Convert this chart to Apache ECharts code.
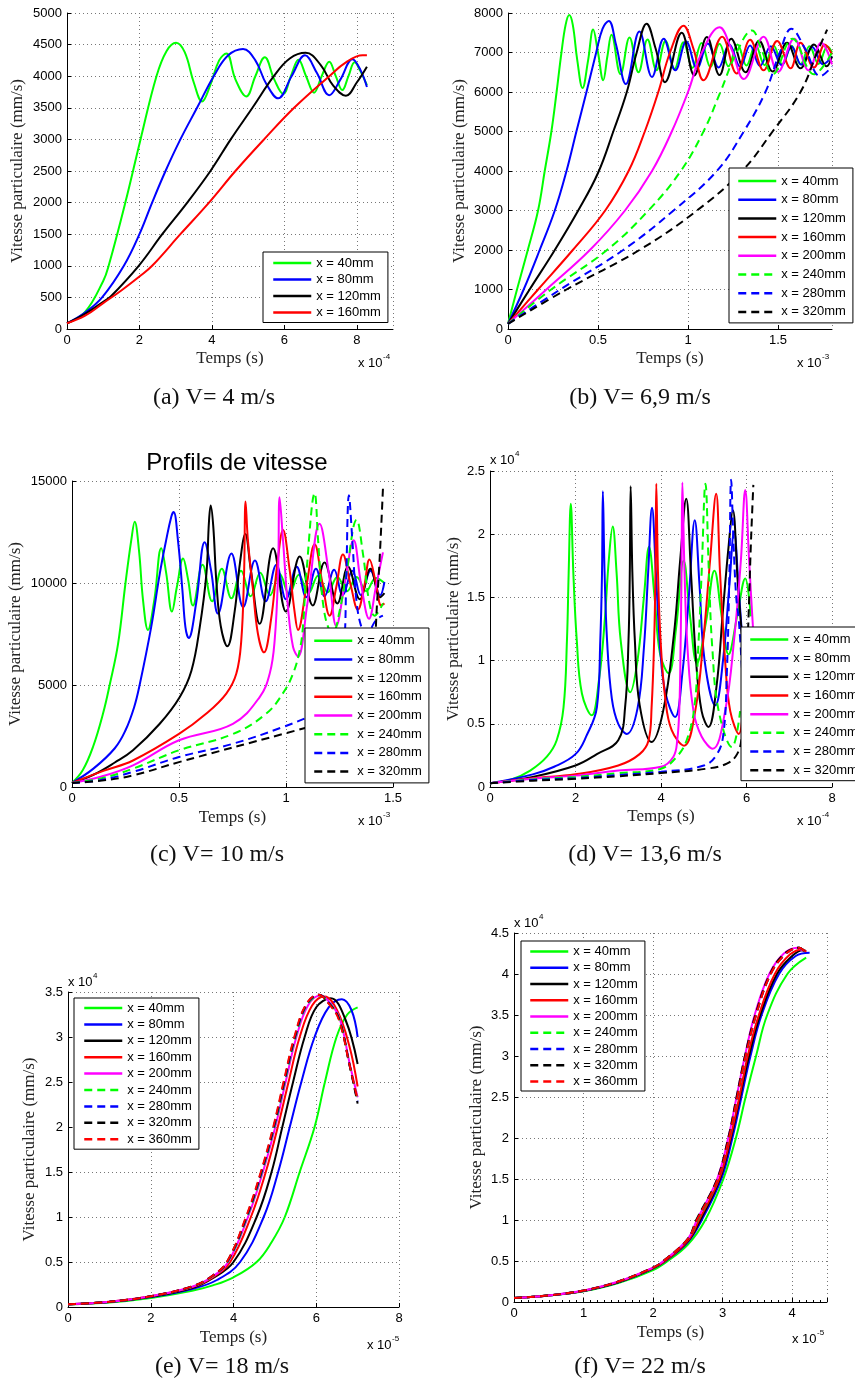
<!DOCTYPE html>
<html><head><meta charset="utf-8">
<script src="https://cdn.jsdelivr.net/npm/echarts@6/dist/echarts.min.js"></script>
<style>html,body{margin:0;padding:0;background:#fff}#c{width:855px;height:1391px}</style>
</head><body><div id="c"></div><script>
// ---------------- DATA ----------------
const NAMES4 = ['x = 40mm','x = 80mm','x = 120mm','x = 160mm'];
const NAMES8 = ['x = 40mm','x = 80mm','x = 120mm','x = 160mm','x = 200mm','x = 240mm','x = 280mm','x = 320mm'];
const NAMES9 = NAMES8.concat(['x = 360mm']);
const CAPTIONS = ['(a) V= 4 m/s','(b) V= 6,9 m/s','(c) V= 10 m/s','(d) V= 13,6 m/s','(e) V= 18 m/s','(f) V= 22 m/s'];
const TITLE_C = 'Profils de vitesse';
const X_NAME = 'Temps (s)';
const Y_NAME = 'Vitesse particulaire (mm/s)';
// axis ranges [min, max, interval]; x values in units of 10^exp
const A_X = [0, 9, 2],   A_Y = [0, 5000, 500];
const B_X = [0, 1.8, 0.5], B_Y = [0, 8000, 1000];
const C_X = [0, 1.5, 0.5], C_Y = [0, 15000, 5000];
const D_X = [0, 8, 2],   D_Y = [0, 2.5, 0.5];
const E_X = [0, 8, 2],   E_Y = [0, 3.5, 0.5];
const F_X = [0, 4.5, 1], F_Y = [0, 4.5, 0.5];
const X_EXP = ['-4','-3','-3','-4','-5','-5'];
const Y_EXP = [null, null, null, '4', '4', '4'];

// (a) V = 4 m/s   x: 1e-4 s, y: mm/s
const a_40 = [[0,90],[0.5,270],[1.0,760],[1.15,1000],[1.61,2000],[2.03,3000],[2.47,4000],[2.75,4400],[3.01,4530],[3.25,4380],[3.5,3900],[3.73,3600],[3.95,3850],[4.2,4250],[4.4,4360],[4.65,3950],[4.95,3680],[5.2,4000],[5.46,4300],[5.72,3950],[5.97,3720],[6.18,4000],[6.39,4260],[6.6,4000],[6.82,3740],[7.03,4000],[7.24,4230],[7.42,4000],[7.6,3780],[7.77,4000],[7.94,4220],[8.1,4080],[8.28,3860]];
const a_80 = [[0,90],[0.5,260],[0.97,500],[1.57,1000],[2.0,1500],[2.35,2000],[2.72,2500],[3.13,3000],[3.59,3500],[4.05,4000],[4.45,4330],[4.86,4430],[5.2,4250],[5.5,3880],[5.83,3650],[6.2,4000],[6.57,4330],[6.9,4050],[7.24,3700],[7.55,3950],[7.88,4270],[8.1,4100],[8.28,3830]];
const a_120 = [[0,90],[0.5,240],[1.0,430],[1.2,510],[1.98,1000],[2.63,1500],[3.32,2000],[3.96,2500],[4.52,3000],[5.12,3500],[5.71,4000],[6.15,4280],[6.59,4370],[7.0,4180],[7.35,3850],[7.7,3690],[8.0,3900],[8.28,4150]];
const a_160 = [[0,90],[0.5,210],[1.0,410],[1.5,610],[2.0,830],[2.35,1000],[3.13,1500],[3.92,2000],[4.65,2500],[5.44,3000],[6.27,3500],[7.24,4000],[7.7,4220],[8.16,4330],[8.28,4330]];

// (b) V = 6,9 m/s   x: 1e-3 s, y: mm/s
const b_40 = [[0,130],[0.05,1000],[0.11,2000],[0.167,3000],[0.204,4000],[0.241,5000],[0.27,6000],[0.297,7000],[0.32,7700],[0.34,7950],[0.36,7700],[0.385,6800],[0.414,6100],[0.445,6800],[0.473,7580],[0.5,7000],[0.529,6300],[0.552,6900],[0.575,7450],[0.625,6450],[0.675,7380],[0.725,6500],[0.775,7330],[0.825,6550],[0.875,7290],[0.925,6580],[0.975,7260],[1.025,6610],[1.075,7240],[1.125,6630],[1.175,7220],[1.225,6650],[1.275,7200],[1.325,6670],[1.375,7190],[1.425,6680],[1.475,7180],[1.525,6690],[1.575,7170],[1.625,6700],[1.675,7160],[1.725,6710],[1.775,7150],[1.8,7000]];
const b_80 = [[0,130],[0.087,1000],[0.176,2000],[0.26,3000],[0.325,4000],[0.38,5000],[0.436,6000],[0.49,7000],[0.525,7600],[0.56,7800],[0.6,7200],[0.655,6200],[0.73,7530],[0.8,6380],[0.865,7350],[0.93,6550],[0.99,7280],[1.05,6600],[1.11,7230],[1.17,6620],[1.23,7200],[1.29,6640],[1.345,7180],[1.4,6660],[1.46,7160],[1.52,6680],[1.575,7150],[1.63,6690],[1.69,7140],[1.75,6700],[1.8,6900]];
const b_120 = [[0,130],[0.12,1000],[0.26,2000],[0.39,3000],[0.5,3950],[0.585,5000],[0.66,6000],[0.715,7000],[0.77,7730],[0.82,7100],[0.872,6250],[0.965,7500],[1.035,6420],[1.105,7390],[1.175,6430],[1.24,7350],[1.32,6500],[1.395,7300],[1.47,6520],[1.55,7250],[1.625,6600],[1.7,7200],[1.77,6650],[1.8,6900]];
const b_160 = [[0,130],[0.167,1000],[0.36,2000],[0.54,3000],[0.67,4000],[0.76,5000],[0.835,6000],[0.9,7000],[0.975,7680],[1.03,7100],[1.086,6300],[1.19,7400],[1.27,6470],[1.345,7320],[1.42,6550],[1.495,7290],[1.57,6600],[1.625,7250],[1.7,6620],[1.76,7200],[1.8,6950]];
const b_200 = [[0,130],[0.213,1000],[0.455,2000],[0.65,3000],[0.8,4000],[0.91,5000],[1.0,6000],[1.077,7000],[1.175,7640],[1.24,7100],[1.31,6330],[1.42,7400],[1.5,6510],[1.59,7350],[1.67,6550],[1.74,7250],[1.8,6700]];
const b_240 = [[0,130],[0.24,1000],[0.55,2000],[0.78,3000],[0.96,4000],[1.086,5000],[1.18,6000],[1.27,7000],[1.355,7560],[1.41,7050],[1.47,6450],[1.58,7350],[1.7,6450],[1.8,7000]];
const b_280 = [[0,130],[0.29,1000],[0.64,2000],[0.92,3000],[1.16,4000],[1.31,5000],[1.43,6000],[1.51,7000],[1.574,7600],[1.65,7100],[1.735,6400],[1.8,6650]];
const b_320 = [[0,130],[0.325,1000],[0.73,2000],[1.05,3000],[1.3,4000],[1.47,5000],[1.625,6000],[1.717,7000],[1.773,7580]];

// (c) V = 10 m/s   x: 1e-3 s, y: mm/s
const c_40 = [[0,200],[0.05,820],[0.098,1960],[0.145,3600],[0.176,5000],[0.215,7000],[0.25,10000],[0.277,12100],[0.293,13000],[0.313,11600],[0.332,9150],[0.355,7700],[0.385,9200],[0.417,11700],[0.44,10500],[0.467,8600],[0.49,9800],[0.519,11200],[0.542,10200],[0.565,8900],[0.61,10900],[0.655,9100],[0.7,10700],[0.745,9250],[0.79,10600],[0.835,9350],[0.88,10500],[0.925,9400],[0.97,10450],[1.015,9450],[1.06,10400],[1.105,9500],[1.15,10350],[1.195,9550],[1.24,10300],[1.285,9600],[1.33,10300],[1.375,9600],[1.42,10250],[1.46,10000]];
const c_80 = [[0,200],[0.1,900],[0.2,1900],[0.25,2780],[0.29,3900],[0.316,5000],[0.37,7840],[0.41,10450],[0.44,12100],[0.464,13250],[0.475,13480],[0.495,12100],[0.516,9640],[0.53,7840],[0.545,7300],[0.58,9000],[0.62,12000],[0.65,10600],[0.682,8500],[0.745,11440],[0.8,8820],[0.855,11100],[0.905,9100],[0.955,10900],[1.0,9200],[1.05,10800],[1.095,9300],[1.14,10700],[1.18,9350],[1.225,10650],[1.265,9400],[1.31,10600],[1.35,9400],[1.395,10600],[1.44,9400],[1.46,10050]];
const c_120 = [[0,200],[0.1,600],[0.2,1200],[0.285,1800],[0.41,3100],[0.503,4400],[0.558,5700],[0.597,7840],[0.628,10450],[0.64,13000],[0.648,13800],[0.66,12800],[0.675,10000],[0.695,7900],[0.726,6900],[0.76,8600],[0.785,11000],[0.81,12400],[0.835,10700],[0.877,8000],[0.94,11700],[1.0,8600],[1.064,11300],[1.125,8900],[1.18,11000],[1.24,9000],[1.29,10800],[1.345,9200],[1.395,10700],[1.44,9300],[1.46,9500]];
const c_160 = [[0,200],[0.15,800],[0.285,1300],[0.5,2600],[0.628,3600],[0.721,4580],[0.768,5560],[0.791,7190],[0.804,10450],[0.811,14000],[0.822,12100],[0.846,9640],[0.869,7500],[0.897,6600],[0.93,8200],[0.96,11000],[0.986,12600],[1.015,10800],[1.04,8600],[1.056,7700],[1.095,9800],[1.134,11900],[1.17,10000],[1.204,8400],[1.235,9800],[1.266,11400],[1.3,10000],[1.336,8700],[1.365,9800],[1.39,11150],[1.42,10000],[1.445,8900],[1.46,9000]];
const c_200 = [[0,200],[0.13,490],[0.285,1060],[0.5,2290],[0.752,3100],[0.877,4410],[0.924,5560],[0.947,7190],[0.963,10450],[0.97,14200],[0.986,12100],[1.009,8830],[1.033,6860],[1.056,6400],[1.1,9000],[1.157,12900],[1.2,10500],[1.235,7900],[1.275,10000],[1.316,12100],[1.35,10000],[1.388,8250],[1.42,9800],[1.453,11500]];
const c_240 = [[0,200],[0.13,410],[0.285,900],[0.5,1800],[0.752,2600],[0.908,3600],[0.986,4600],[1.033,5560],[1.064,6700],[1.079,7840],[1.095,10460],[1.134,14400],[1.15,12100],[1.173,9000],[1.204,7650],[1.22,7600],[1.25,8600],[1.282,10460],[1.33,13100],[1.36,11400],[1.39,9000],[1.414,8400],[1.453,9000]];
const c_280 = [[0,200],[0.13,330],[0.285,740],[0.5,1470],[0.752,2120],[0.986,2940],[1.142,3600],[1.235,4080],[1.259,5560],[1.274,7190],[1.282,10460],[1.294,14300],[1.31,12100],[1.329,9150],[1.352,7850],[1.375,7500],[1.422,8200],[1.453,8400]];
const c_320 = [[0,200],[0.13,300],[0.285,570],[0.5,1220],[0.986,2600],[1.22,3270],[1.375,3760],[1.405,4250],[1.422,8330],[1.438,11270],[1.453,14620]];

// (d) V = 13,6 m/s   x: 1e-4 s, y: 1e4 mm/s
const d_40 = [[0,0.03],[0.5,0.06],[0.94,0.13],[1.33,0.24],[1.56,0.37],[1.72,0.63],[1.8,1.16],[1.84,1.69],[1.89,2.24],[1.95,1.69],[2.03,1.16],[2.15,0.74],[2.38,0.567],[2.55,0.85],[2.68,1.3],[2.78,1.8],[2.87,2.06],[2.96,1.7],[3.06,1.15],[3.28,0.75],[3.45,1.0],[3.6,1.5],[3.72,1.9],[3.85,1.5],[3.98,1.05],[4.18,0.9],[4.35,1.25],[4.53,1.79],[4.68,1.35],[4.84,0.98],[5.05,1.3],[5.25,1.71],[5.42,1.35],[5.58,1.05],[5.78,1.35],[5.97,1.65],[6.1,1.35]];
const d_80 = [[0,0.03],[1,0.1],[1.5,0.16],[2.0,0.26],[2.25,0.4],[2.5,0.63],[2.58,1.16],[2.62,1.69],[2.64,2.34],[2.68,1.7],[2.74,1.15],[2.85,0.7],[3.0,0.5],[3.2,0.42],[3.45,0.62],[3.6,1.1],[3.7,1.7],[3.79,2.21],[3.88,1.7],[3.98,1.1],[4.1,0.75],[4.33,0.554],[4.5,0.9],[4.65,1.5],[4.79,2.11],[4.9,1.6],[5.02,1.0],[5.27,0.646],[5.45,1.0],[5.6,1.6],[5.71,2.02],[5.82,1.55],[5.95,1.0],[6.05,0.8]];
const d_120 = [[0,0.03],[1,0.08],[2,0.17],[2.5,0.26],[3.0,0.37],[3.16,0.63],[3.24,1.16],[3.27,1.69],[3.29,2.38],[3.33,1.7],[3.39,1.15],[3.5,0.65],[3.78,0.356],[4.05,0.6],[4.3,1.2],[4.45,1.8],[4.59,2.28],[4.7,1.7],[4.82,1.0],[4.95,0.6],[5.11,0.475],[5.3,0.8],[5.45,1.4],[5.58,1.9],[5.68,2.19],[5.8,1.6],[5.95,1.0],[6.05,0.8]];
const d_160 = [[0,0.03],[1,0.07],[2,0.1],[3,0.17],[3.5,0.26],[3.71,0.37],[3.78,0.63],[3.84,1.16],[3.87,1.69],[3.89,2.4],[3.93,1.69],[3.99,1.16],[4.1,0.7],[4.25,0.45],[4.54,0.327],[4.8,0.6],[5.0,1.2],[5.15,1.8],[5.29,2.32],[5.38,1.7],[5.5,1.0],[5.62,0.6],[5.82,0.42],[5.95,0.8]];
const d_200 = [[0,0.03],[1,0.065],[2,0.09],[3,0.13],[4,0.16],[4.29,0.24],[4.38,0.37],[4.43,0.63],[4.46,1.16],[4.48,1.69],[4.5,2.41],[4.55,1.7],[4.62,1.1],[4.76,0.6],[4.95,0.4],[5.21,0.303],[5.5,0.6],[5.72,1.2],[5.87,1.8],[5.97,2.35],[6.06,1.8],[6.15,1.27],[6.25,0.8]];
const d_240 = [[0,0.03],[1,0.06],[2,0.08],[3,0.11],[4,0.145],[4.37,0.24],[4.6,0.37],[4.78,0.63],[4.88,1.16],[4.95,1.69],[5.04,2.4],[5.12,1.7],[5.2,1.1],[5.35,0.6],[5.66,0.316],[5.85,0.6]];
const d_280 = [[0,0.03],[1,0.055],[2,0.07],[3,0.095],[4,0.12],[5.0,0.17],[5.31,0.26],[5.46,0.42],[5.54,0.9],[5.6,1.69],[5.64,2.43],[5.7,1.9],[5.76,1.5],[5.82,1.32],[5.9,0.9]];
const d_320 = [[0,0.03],[1,0.05],[2,0.065],[3,0.085],[4,0.11],[5.07,0.145],[5.54,0.185],[5.78,0.26],[5.89,0.4],[5.98,0.8],[6.05,1.37],[6.1,1.9],[6.16,2.39]];

// (e) V = 18 m/s   x: 1e-5 s, y: 1e4 mm/s
const e_40 = [[0,0.03],[1,0.05],[2,0.1],[3,0.18],[3.5,0.24],[4,0.33],[4.56,0.5],[4.92,0.72],[5.24,1.0],[5.6,1.5],[5.96,2.0],[6.21,2.5],[6.49,3.0],[6.75,3.25],[7.0,3.33]];
const e_80 = [[0,0.03],[1,0.055],[2,0.11],[3,0.2],[3.6,0.3],[4.16,0.5],[4.73,1.0],[5.08,1.5],[5.36,2.0],[5.64,2.5],[5.96,3.0],[6.3,3.33],[6.62,3.42],[6.85,3.3],[7.0,3.0]];
const e_120 = [[0,0.03],[1,0.056],[2,0.115],[3,0.21],[3.5,0.32],[4.0,0.5],[4.56,1.0],[4.92,1.5],[5.18,2.0],[5.44,2.5],[5.72,3.0],[6.0,3.33],[6.35,3.43],[6.7,3.2],[7.0,2.7]];
const e_160 = [[0,0.03],[1,0.057],[2,0.12],[3,0.22],[3.5,0.33],[3.92,0.5],[4.42,1.0],[4.78,1.5],[5.07,2.0],[5.33,2.5],[5.6,3.0],[5.9,3.35],[6.2,3.45],[6.5,3.3],[6.8,2.9],[7.0,2.45]];
const e_200 = [[0,0.03],[1,0.058],[2,0.12],[3,0.225],[3.5,0.34],[3.87,0.5],[4.35,1.0],[4.71,1.5],[5.01,2.0],[5.26,2.5],[5.52,3.0],[5.8,3.35],[6.1,3.46],[6.35,3.37],[6.57,3.2],[6.81,2.7],[7.0,2.33]];
const e_240 = [[0,0.03],[1,0.058],[2,0.12],[3,0.225],[3.5,0.345],[3.86,0.5],[4.33,1.0],[4.69,1.5],[4.99,2.0],[5.24,2.5],[5.5,3.0],[5.78,3.36],[6.08,3.46],[6.33,3.37],[6.56,3.2],[6.8,2.7],[7.0,2.3]];
const e_280 = [[0,0.03],[1,0.058],[2,0.12],[3,0.228],[3.5,0.35],[3.85,0.5],[4.32,1.0],[4.68,1.5],[4.98,2.0],[5.23,2.5],[5.49,3.0],[5.77,3.36],[6.07,3.47],[6.32,3.37],[6.55,3.2],[6.8,2.7],[7.0,2.28]];
const e_320 = [[0,0.03],[1,0.058],[2,0.12],[3,0.23],[3.5,0.35],[3.84,0.5],[4.31,1.0],[4.67,1.5],[4.97,2.0],[5.22,2.5],[5.48,3.0],[5.76,3.36],[6.06,3.47],[6.31,3.37],[6.55,3.2],[6.8,2.7],[7.0,2.26]];
const e_360 = [[0,0.03],[1,0.058],[2,0.12],[3,0.23],[3.5,0.35],[3.84,0.5],[4.3,1.0],[4.66,1.5],[4.96,2.0],[5.21,2.5],[5.47,3.0],[5.75,3.36],[6.05,3.47],[6.3,3.37],[6.54,3.2],[6.8,2.7],[7.0,2.3]];

// (f) V = 22 m/s   x: 1e-5 s, y: 1e4 mm/s
const f_40 = [[0,0.05],[0.5,0.08],[1,0.13],[1.5,0.23],[2,0.39],[2.21,0.5],[2.5,0.7],[2.75,1.0],[3.01,1.5],[3.19,2.0],[3.33,2.5],[3.48,3.0],[3.64,3.5],[3.93,4.0],[4.2,4.2]];
const f_80 = [[0,0.05],[0.5,0.08],[1,0.135],[1.5,0.24],[2,0.41],[2.18,0.5],[2.5,0.73],[2.7,1.0],[2.98,1.5],[3.14,2.0],[3.27,2.5],[3.4,3.0],[3.56,3.5],[3.81,4.0],[4.05,4.22],[4.25,4.26]];
const f_120 = [[0,0.05],[0.5,0.08],[1,0.135],[1.5,0.24],[2,0.41],[2.17,0.5],[2.5,0.74],[2.68,1.0],[2.96,1.5],[3.12,2.0],[3.25,2.5],[3.38,3.0],[3.54,3.5],[3.78,4.0],[4.0,4.22],[4.15,4.29],[4.2,4.28]];
const f_160 = [[0,0.05],[0.5,0.08],[1,0.137],[1.5,0.245],[2,0.415],[2.17,0.5],[2.5,0.75],[2.66,1.0],[2.95,1.5],[3.11,2.0],[3.24,2.5],[3.36,3.0],[3.52,3.5],[3.75,4.0],[3.97,4.24],[4.15,4.3],[4.2,4.27]];
const f_200 = [[0,0.05],[0.5,0.08],[1,0.14],[1.5,0.25],[2,0.42],[2.15,0.5],[2.5,0.77],[2.63,1.0],[2.92,1.5],[3.08,2.0],[3.2,2.5],[3.32,3.0],[3.46,3.5],[3.67,4.0],[3.88,4.25],[4.08,4.32],[4.15,4.28]];
const f_240 = [[0,0.05],[0.5,0.08],[1,0.14],[1.5,0.25],[2,0.42],[2.15,0.5],[2.5,0.77],[2.64,1.0],[2.93,1.5],[3.09,2.0],[3.21,2.5],[3.33,3.0],[3.48,3.5],[3.69,4.0],[3.9,4.24],[4.1,4.32],[4.17,4.28]];
const f_280 = [[0,0.05],[0.5,0.08],[1,0.14],[1.5,0.25],[2,0.42],[2.15,0.5],[2.5,0.77],[2.63,1.0],[2.93,1.5],[3.09,2.0],[3.21,2.5],[3.33,3.0],[3.48,3.5],[3.69,4.0],[3.9,4.24],[4.1,4.32],[4.17,4.28]];
const f_320 = [[0,0.05],[0.5,0.08],[1,0.14],[1.5,0.25],[2,0.42],[2.15,0.5],[2.5,0.77],[2.62,1.0],[2.92,1.5],[3.08,2.0],[3.2,2.5],[3.32,3.0],[3.47,3.5],[3.68,4.0],[3.89,4.25],[4.1,4.32],[4.17,4.28]];
const f_360 = [[0,0.05],[0.5,0.08],[1,0.14],[1.5,0.25],[2,0.42],[2.15,0.5],[2.5,0.77],[2.63,1.0],[2.93,1.5],[3.09,2.0],[3.21,2.5],[3.33,3.0],[3.48,3.5],[3.69,4.0],[3.9,4.24],[4.1,4.32],[4.17,4.28]];

// ---------------- STYLE / LAYOUT ----------------
const LINE_STYLE = {
  'x = 40mm':['#00ff00','solid'], 'x = 80mm':['#0000ff','solid'], 'x = 120mm':['#000000','solid'],
  'x = 160mm':['#ff0000','solid'], 'x = 200mm':['#ff00ff','solid'], 'x = 240mm':['#00ff00','dashed'],
  'x = 280mm':['#0000ff','dashed'], 'x = 320mm':['#000000','dashed'], 'x = 360mm':['#ff0000','dashed']
};
const PANELS = [
  {names:NAMES4, data:[a_40,a_80,a_120,a_160], xr:A_X, yr:A_Y, grid:[67,13,326,316], hideMax:true, yGap:41, xGap:21,
   legend:{left:263, top:252, padding:[4.5,7,3.5,9], gap:3.5}, cap:[214,398], xe:[358,363], ye:null},
  {names:NAMES8, data:[b_40,b_80,b_120,b_160,b_200,b_240,b_280,b_320], xr:B_X, yr:B_Y, grid:[508,13,324,316], hideMax:true, yGap:40, xGap:21,
   legend:{left:729, top:168, padding:[6.5,7,4.5,8], gap:5.7}, cap:[640,398], xe:[797,363], ye:null},
  {names:NAMES8, data:[c_40,c_80,c_120,c_160,c_200,c_240,c_280,c_320], xr:C_X, yr:C_Y, grid:[72,481,321,306], hideMax:false, yGap:48, xGap:22,
   legend:{left:305, top:628, padding:[6.2,7,4.8,8], gap:5.7}, cap:[217,855], xe:[358,821], ye:null},
  {names:NAMES8, data:[d_40,d_80,d_120,d_160,d_200,d_240,d_280,d_320], xr:D_X, yr:D_Y, grid:[490,471,342,316], hideMax:false, yGap:28, xGap:21,
   legend:{left:741, top:627, padding:[6,7,4,8], gap:5.67}, cap:[645,855], xe:[797,821], ye:[490,460]},
  {names:NAMES9, data:[e_40,e_80,e_120,e_160,e_200,e_240,e_280,e_320,e_360], xr:E_X, yr:E_Y, grid:[68,992,331,315], hideMax:false, yGap:30, xGap:22,
   legend:{left:74, top:998, padding:[3.5,7,3.5,9], gap:3.4}, cap:[222,1367], xe:[367,1345], ye:[68,982]},
  {names:NAMES9, data:[f_40,f_80,f_120,f_160,f_200,f_240,f_280,f_320,f_360], xr:F_X, yr:F_Y, grid:[514,933,313,369], hideMax:true, yGap:29, xGap:22, minor:true,
   legend:{left:521, top:941, padding:[4,7,3,8], gap:3.25}, cap:[640,1367], xe:[792,1339], ye:[514,923]}
];

const SANS = 'Liberation Sans, Arial, sans-serif';
const SERIF = 'Liberation Serif, Times New Roman, serif';
const option = {animation:false, backgroundColor:'#fff', grid:[], xAxis:[], yAxis:[], series:[], legend:[], graphic:[]};
const plain = v => String(v);
const axisCommon = {
  axisLine:{show:true, onZero:false, lineStyle:{color:'#000', width:1}},
  axisTick:{show:true, inside:true, length:4, lineStyle:{color:'#000'}},
  splitLine:{show:true, lineStyle:{color:'#777', type:[1,3], width:1}},
  axisLabel:{color:'#000', fontFamily:SANS, fontSize:13, margin:5, formatter:plain}
};
function expText(x, y, sup){
  option.graphic.push({type:'text', x:x, y:y, style:{text:'x 10', fill:'#000', font:'13px '+SANS, align:'left', verticalAlign:'middle'}, silent:true});
  option.graphic.push({type:'text', x:x+25, y:y-6, style:{text:sup, fill:'#000', font:'8px '+SANS, align:'left', verticalAlign:'middle'}, silent:true});
}
PANELS.forEach((p, i) => {
  option.grid.push({left:p.grid[0], top:p.grid[1], width:p.grid[2], height:p.grid[3], containLabel:false, outerBoundsMode:'none'});
  option.xAxis.push(Object.assign({}, axisCommon, {
    type:'value', gridIndex:i, min:p.xr[0], max:p.xr[1], interval:p.xr[2],
    name:X_NAME, nameLocation:'middle', nameGap:p.xGap, nameTextStyle:{fontFamily:SERIF, fontSize:17, color:'#222'},
    axisLabel:Object.assign({}, axisCommon.axisLabel, {showMaxLabel:!p.hideMax, showMinLabel:true}),
    minorTick: p.minor ? {show:true, splitNumber:10, length:2, lineStyle:{color:'#000'}} : {show:false}
  }));
  option.yAxis.push(Object.assign({}, axisCommon, {
    type:'value', gridIndex:i, min:p.yr[0], max:p.yr[1], interval:p.yr[2],
    name:Y_NAME, nameLocation:'middle', nameRotate:90, nameGap:p.yGap, nameTextStyle:{fontFamily:SERIF, fontSize:17, color:'#222'},
    axisLabel:Object.assign({}, axisCommon.axisLabel, {showMaxLabel:true, showMinLabel:true})
  }));
  p.names.forEach((n, k) => {
    const st = LINE_STYLE[n];
    option.series.push({
      name:n, type:'line', xAxisIndex:i, yAxisIndex:i, data:p.data[k],
      symbol:'none', showSymbol:false, smooth:0.4,
      lineStyle:{color:st[0], width:2, type: st[1]==='dashed' ? [8,5] : 'solid'},
      itemStyle:{color:st[0]}, emphasis:{disabled:true}
    });
  });
  option.legend.push({
    orient:'vertical', left:p.legend.left, top:p.legend.top, padding:p.legend.padding, itemGap:p.legend.gap,
    itemWidth:38, itemHeight:13, data:p.names, selectedMode:false,
    itemStyle:{opacity:0, borderWidth:0}, lineStyle:{width:2.5},
    backgroundColor:'#fff', borderColor:'#000', borderWidth:1, borderRadius:0,
    textStyle:{color:'#000', fontFamily:SANS, fontSize:13, lineHeight:13}
  });
  option.graphic.push({type:'text', x:p.cap[0], y:p.cap[1], style:{text:CAPTIONS[i], fill:'#111', font:'24px '+SERIF, align:'center', verticalAlign:'middle'}, silent:true});
  expText(p.xe[0], p.xe[1], X_EXP[i]);
  if (p.ye) expText(p.ye[0], p.ye[1], Y_EXP[i]);
});
option.title = {text:TITLE_C, left:232, top:458, textAlign:'center', textVerticalAlign:'middle',
  textStyle:{fontFamily:SANS, fontSize:24, fontWeight:'normal', color:'#000'}};

const chart = echarts.init(document.getElementById('c'), null, {renderer:'canvas', width:855, height:1391});
chart.setOption(option);
</script></body></html>
